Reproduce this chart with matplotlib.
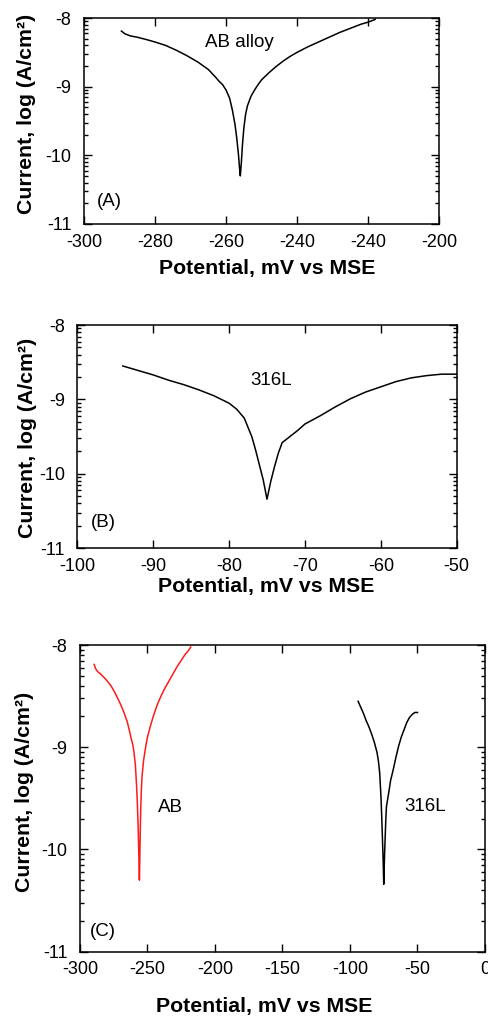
import matplotlib
matplotlib.use("Agg")
import matplotlib.pyplot as plt
import numpy as np

plt.rcParams['font.family'] = ['Liberation Sans', 'DejaVu Sans']
plt.rcParams['axes.unicode_minus'] = False

# Tafel curves, potential (mV vs MSE) and log current density
ab_potential = [-289.5, -288.5, -287, -285, -282, -280, -277, -274, -271, -268,
                -265, -263, -262, -261, -260, -259, -258.2, -257.5, -257, -256.5,
                -256.2, -256, -255.7, -255.4, -255, -254.5, -254, -253, -252, -251,
                -250, -248, -246, -244, -242, -240, -237, -234, -231, -228,
                -225, -222, -220, -218]
ab_logi = [-8.19, -8.23, -8.26, -8.28, -8.32, -8.35, -8.40, -8.47, -8.55, -8.64,
           -8.75, -8.86, -8.92, -8.97, -9.05, -9.17, -9.35, -9.55, -9.75, -10.0,
           -10.2, -10.3, -10.1, -9.85, -9.6, -9.40, -9.28, -9.14, -9.05, -8.97,
           -8.90, -8.80, -8.71, -8.63, -8.56, -8.50, -8.42, -8.35, -8.28, -8.21,
           -8.15, -8.09, -8.06, -8.02]

ss_potential = [-94, -92, -90, -88, -86, -84, -82, -80, -79, -78,
                -77, -76.5, -76, -75.5, -75, -74.5, -74, -73.5, -73, -72,
                -71, -70, -68, -66, -64, -62, -60, -58, -56, -54,
                -52, -50]
ss_logi = [-8.55, -8.61, -8.67, -8.74, -8.80, -8.87, -8.95, -9.05, -9.13, -9.25,
           -9.50, -9.68, -9.88, -10.08, -10.34, -10.10, -9.90, -9.72, -9.58, -9.50,
           -9.42, -9.33, -9.22, -9.10, -8.99, -8.90, -8.83, -8.76, -8.71, -8.68,
           -8.66, -8.66]

# panel A tick labels as printed (the fifth label repeats -240)
a_ticks = [-300, -280, -260, -240, -220, -200]
a_ticklabels = ['-300', '-280', '-260', '-240', '-240', '-200']
b_ticks = [-100, -90, -80, -70, -60, -50]
c_ticks = [-300, -250, -200, -150, -100, -50, 0]
y_ticks = [-11, -10, -9, -8]

ylab = 'Current, log (A/cm²)'
xlab = 'Potential, mV vs MSE'

fig = plt.figure(figsize=(4.89, 10.18), dpi=100)
axA = fig.add_axes([0.172, 0.780, 0.726, 0.2023])
axB = fig.add_axes([0.158, 0.4614, 0.776, 0.2193])
axC = fig.add_axes([0.1636, 0.0651, 0.8282, 0.3013])


def style(ax, xlim, xticks, ylx, yly, xly, xlx):
    ax.set_xlim(xlim)
    ax.set_ylim(-11, -8)
    ax.set_xticks(xticks)
    ax.set_yticks(y_ticks)
    # log-style minor ticks inside each decade
    minors = [d + np.log10(k) for d in (-11, -10, -9) for k in range(2, 10)]
    ax.set_yticks(minors, minor=True)
    ax.tick_params(which='both', direction='in', top=True, right=True,
                   labelsize=13, width=1.0)
    ax.tick_params(which='major', length=6)
    ax.tick_params(axis='x', which='major', pad=7)
    ax.tick_params(axis='y', which='major', pad=9)
    ax.tick_params(which='minor', length=3)
    ax.tick_params(axis='x', which='minor', bottom=False, top=False)
    for s in ax.spines.values():
        s.set_linewidth(1.1)
    ax.set_ylabel(ylab, fontsize=15.3, fontweight='bold', va='center')
    ax.yaxis.set_label_coords(ylx, yly)
    ax.set_xlabel(xlab, fontsize=15.3, fontweight='bold', va='center')
    ax.xaxis.set_label_coords(xlx, xly)


axA.plot(ab_potential, ab_logi, color='black', lw=1.1)
style(axA, (-300, -200), a_ticks, -0.163, 0.534, -0.214, 0.517)
axA.set_xticklabels(a_ticklabels)
axA.text(-256.3, -8.36, 'AB alloy', fontsize=13.5, ha='center', va='center')
axA.text(-296.5, -10.67, '(A)', fontsize=13.5, ha='left', va='center')

axB.plot(ss_potential, ss_logi, color='black', lw=1.1)
style(axB, (-100, -50), b_ticks, -0.130, 0.494, -0.169, 0.498)
axB.text(-74.4, -8.74, '316L', fontsize=13.5, ha='center', va='center')
axB.text(-98.2, -10.66, '(B)', fontsize=13.5, ha='left', va='center')

axC.plot(ab_potential, ab_logi, color='#ff1a1a', lw=1.1)
axC.plot(ss_potential, ss_logi, color='black', lw=1.1)
style(axC, (-300, 0), c_ticks, -0.136, 0.522, -0.180, 0.454)
axC.text(-233, -9.59, 'AB', fontsize=13.5, ha='center', va='center')
axC.text(-44.4, -9.58, '316L', fontsize=13.5, ha='center', va='center')
axC.text(-292.5, -10.8, '(C)', fontsize=13.5, ha='left', va='center')

fig.savefig('out.png', dpi=100)
